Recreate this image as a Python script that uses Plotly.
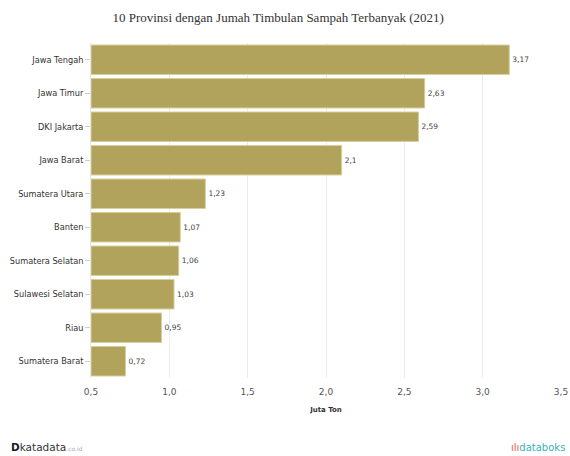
import plotly.graph_objects as go

provinces = ["Jawa Tengah", "Jawa Timur", "DKI Jakarta", "Jawa Barat", "Sumatera Utara",
             "Banten", "Sumatera Selatan", "Sulawesi Selatan", "Riau", "Sumatera Barat"]
values = [3.17, 2.63, 2.59, 2.1, 1.23, 1.07, 1.06, 1.03, 0.95, 0.72]
labels = ["3,17", "2,63", "2,59", "2,1", "1,23", "1,07", "1,06", "1,03", "0,95", "0,72"]
tick_vals = [0.5, 1.0, 1.5, 2.0, 2.5, 3.0, 3.5]
tick_text = ["0,5", "1,0", "1,5", "2,0", "2,5", "3,0", "3,5"]

base = 0.5
fig = go.Figure(go.Bar(
    y=provinces,
    x=[v - base for v in values],
    base=base,
    orientation="h",
    marker=dict(color="#b1a35c", line=dict(color="#d9cf9c", width=1)),
    text=labels,
    textposition="outside",
    textfont=dict(family="DejaVu Sans", size=7.5, color="#444"),
    cliponaxis=False,
))

fig.update_layout(
    width=570, height=456,
    margin=dict(l=91, r=9, t=43, b=78, autoexpand=False),
    paper_bgcolor="white", plot_bgcolor="white",
    separators=",.",
    bargap=0.12,
    showlegend=False,
    title=dict(text="10 Provinsi dengan Jumah Timbulan Sampah Terbanyak (2021)",
               x=0.488, xanchor="center", y=0.962, yanchor="middle",
               font=dict(family="Liberation Serif", size=13, color="#333")),
    xaxis=dict(range=[0.5, 3.5], tickvals=tick_vals, ticktext=tick_text,
               showgrid=True, gridcolor="#ebebeb", zeroline=False, automargin=False,
               tickfont=dict(family="DejaVu Sans", size=9, color="#555"),
               ticklabelstandoff=7,
               title=dict(text="<b>Juta Ton</b>", font=dict(family="DejaVu Sans", size=7, color="#333"), standoff=11),
               ticks="", showline=False),
    yaxis=dict(autorange="reversed", showgrid=False, zeroline=False, automargin=False,
               tickfont=dict(family="DejaVu Sans", size=8.2, color="#333"),
               ticks="outside", ticklen=5, tickcolor="#ccc",
               showline=True, linecolor="#e6e6e6"),
)

fig.add_annotation(x=-0.175, y=-0.207, xref="paper", yref="paper", xanchor="left", yanchor="middle",
                   text="<b>D</b><span style='color:#333'>katadata</span><span style='font-size:6px;color:#aaa'>.co.id</span>",
                   showarrow=False, font=dict(family="DejaVu Sans", size=10.5, color="#1a1a2e"))
fig.add_annotation(x=1.012, y=-0.207, xref="paper", yref="paper", xanchor="right", yanchor="middle",
                   text="<span style='color:#e8604c'>ılı</span>databoks",
                   showarrow=False, font=dict(family="DejaVu Sans", size=10, color="#3bb0b8"))

fig.write_html("out.html", config={"displayModeBar": False},
               post_script="document.body.style.margin='0';")
